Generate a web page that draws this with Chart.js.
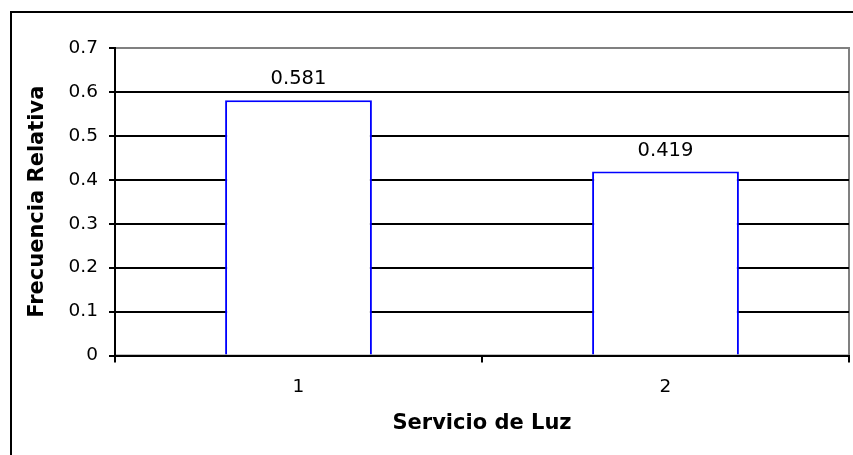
<!DOCTYPE html>
<html>
<head>
<meta charset="utf-8">
<script src="https://cdn.jsdelivr.net/npm/chart.js@4"></script>
<style>
  body { margin: 0; background: #fff; }
  canvas { display: block; }
</style>
</head>
<body>
<canvas id="chart" width="853" height="455"></canvas>
<script>
// Data
const categories = ["1", "2"];
const frecuencia = [0.581, 0.419];
const yTicks = [0, 0.1, 0.2, 0.3, 0.4, 0.5, 0.6, 0.7];

const FONT = "'DejaVu Sans', Verdana, sans-serif";

// Outer chart border and grey plot area frame (Excel style)
const framePlugin = {
  id: "frame",
  beforeDraw(chart) {
    const { ctx, chartArea } = chart;
    ctx.save();
    ctx.fillStyle = "#fff";
    ctx.fillRect(0, 0, chart.width, chart.height);
    ctx.strokeStyle = "#000";
    ctx.lineWidth = 2;
    ctx.strokeRect(11, 12, chart.width + 20, chart.height + 20);
    ctx.strokeStyle = "#808080";
    ctx.strokeRect(chartArea.left, chartArea.top, chartArea.right - chartArea.left, chartArea.bottom - chartArea.top);
    ctx.restore();
  }
};

// Value labels above each bar
const valueLabels = {
  id: "valueLabels",
  afterDatasetsDraw(chart) {
    const { ctx } = chart;
    const meta = chart.getDatasetMeta(0);
    ctx.save();
    ctx.font = "19.5px " + FONT;
    ctx.fillStyle = "#000";
    ctx.textAlign = "center";
    ctx.textBaseline = "middle";
    meta.data.forEach((bar, i) => {
      ctx.fillText(frecuencia[i].toFixed(3), bar.x, bar.y - 21);
    });
    ctx.restore();
  }
};

const ctx = document.getElementById("chart").getContext("2d");
new Chart(ctx, {
  type: "bar",
  data: {
    labels: categories,
    datasets: [
      {
        data: frecuencia,
        backgroundColor: "#fff",
        borderColor: "#0000ff",
        borderWidth: 2,
        barPercentage: 0.4,
        categoryPercentage: 1,
      },
    ],
  },
  options: {
    responsive: false,
    animation: false,
    layout: { padding: { left: 0, top: 48, right: 4, bottom: 0 } },
    plugins: {
      legend: { display: false },
      tooltip: { enabled: false },
    },
    scales: {
      x: {
        afterFit: (scale) => { scale.height = 99.5; },
        grid: {
          offset: true,
          drawOnChartArea: false,
          tickLength: 7,
          tickColor: "#000",
          lineWidth: 2,
        },
        border: { color: "#000", width: 2 },
        ticks: {
          color: "#000",
          padding: 14,
          font: { family: FONT, size: 18.5 },
        },
        title: {
          display: true,
          text: "Servicio de Luz",
          color: "#000",
          font: { family: FONT, size: 21, weight: "bold" },
          padding: { top: 0, bottom: 18.6 },
        },
      },
      y: {
        min: 0,
        max: 0.7,
        afterFit: (scale) => { scale.width = 115; },
        afterBuildTicks: (scale) => { scale.ticks = yTicks.map((v) => ({ value: v })); },
        grid: {
          color: (c) => (c.tick && c.tick.value === 0.7 ? "#808080" : "#000"),
          lineWidth: 2,
          tickLength: 6,
          tickColor: "#000",
        },
        border: { color: "#000", width: 2 },
        ticks: {
          color: "#000",
          padding: 11,
          font: { family: FONT, size: 18.5 },
          callback: (v) => String(v),
        },
        title: {
          display: true,
          text: "Frecuencia Relativa",
          color: "#000",
          font: { family: FONT, size: 21, weight: "bold" },
          padding: { top: 25, bottom: 0 },
        },
      },
    },
  },
  plugins: [framePlugin, valueLabels],
});
</script>
</body>
</html>
